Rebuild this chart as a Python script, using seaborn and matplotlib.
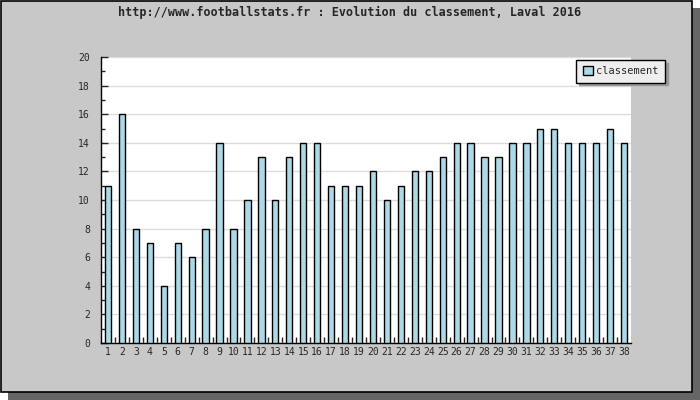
import numpy as np
import pandas as pd
import seaborn as sns
import matplotlib.pyplot as plt
from matplotlib.patches import Rectangle
from matplotlib.ticker import MultipleLocator, FixedLocator

TITLE = "http://www.footballstats.fr : Evolution du classement, Laval 2016"
rounds = [str(i) for i in range(1, 39)]
classement = [11, 16, 8, 7, 4, 7, 6, 8, 14, 8, 10, 13, 10, 13, 14, 14, 11, 11, 11, 12,
              10, 11, 12, 12, 13, 14, 14, 13, 13, 14, 14, 15, 15, 14, 14, 14, 15, 14]
y_ticks = list(range(0, 21, 2))

BAR_COLOR = "#ADD8E6"
BG = "#C8C8C8"

sns.set_style("white")
plt.rcParams["font.family"] = ["DejaVu Sans Mono"]

df = pd.DataFrame({"journee": rounds, "classement": classement})

fig = plt.figure(figsize=(7, 4), dpi=100)
fig.patch.set_facecolor("white")
# shadow + frame of the image
fig.patches.append(Rectangle((8 / 700, 0), 692 / 700, 392 / 400, transform=fig.transFigure,
                             facecolor="#666666", edgecolor="none", zorder=-2))
fig.patches.append(Rectangle((0.5 / 700, 8 / 400), 691 / 700, 391.5 / 400, transform=fig.transFigure,
                             facecolor=BG, edgecolor="black", linewidth=1.2, zorder=-1))

ax = fig.add_axes([101 / 700, 57 / 400, 530 / 700, 286 / 400])
ax.set_facecolor("white")

sns.barplot(data=df, x="journee", y="classement", color=BAR_COLOR, width=0.45,
            edgecolor="black", linewidth=1, saturation=1, label="classement", ax=ax, zorder=3)

ax.set_xlim(-0.5, len(rounds) - 0.5)
ax.set_ylim(0, 20)
ax.set_yticks(y_ticks)
ax.yaxis.set_minor_locator(MultipleLocator(1))
ax.xaxis.set_minor_locator(FixedLocator(np.arange(0.5, len(rounds) - 0.5, 1)))
ax.grid(axis="y", color="#DDDDDD", linewidth=1, zorder=0)
ax.set_axisbelow(True)

for s in ["top", "right"]:
    ax.spines[s].set_visible(False)
for s in ["left", "bottom"]:
    ax.spines[s].set_color("black")
    ax.spines[s].set_linewidth(1)

ax.tick_params(axis="y", which="major", direction="in", length=5, width=1, labelsize=7, pad=8, left=True)
ax.tick_params(axis="y", which="minor", direction="in", length=3, width=1, left=True)
ax.tick_params(axis="x", which="major", length=0, labelsize=7, pad=3)
ax.tick_params(axis="x", which="minor", direction="in", length=4, width=1, bottom=True)
ax.set_xlabel("")
ax.set_ylabel("")

leg = ax.legend(loc="upper right", bbox_to_anchor=(1.064, 0.99), borderaxespad=0,
                fancybox=False, shadow={"color": "#999999", "alpha": 1}, fontsize=7.5,
                handlelength=1.0, handleheight=1.0, handletextpad=0.3,
                borderpad=0.6, framealpha=1)
leg.get_frame().set_facecolor("#EEEEEE")
leg.get_frame().set_edgecolor("black")
leg.get_frame().set_linewidth(1)

fig.text(350 / 700, 1 - 12 / 400, TITLE, ha="center", va="center", fontsize=8.5, fontweight="bold")

fig.savefig("out.png", dpi=100)
